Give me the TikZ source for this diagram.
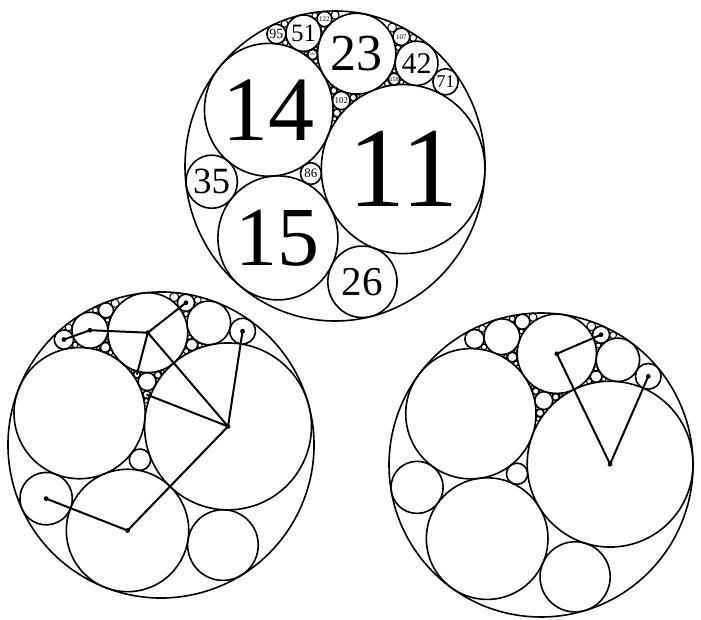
\documentclass[tikz,border=0pt]{standalone}
\usepackage{fontspec}
\setmainfont{Liberation Serif}
\usetikzlibrary{positioning}

% one packing, outer radius 1; coordinates named <prefix><curvature>
\newcommand{\gasket}[1]{%
  \foreach \n/\x/\y/\r in {out/0/0/1,
      11/0.454545/0/0.545455, 14/-0.457143/0.342857/0.428571,
      15/-0.36/-0.48/0.4, 23/0.113043/0.730435/0.260870,
      26/0.215385/-0.738462/0.230769, 35/-0.817143/-0.137143/0.171429,
      86/-0.158140/-0.055814/0.069767, 42/0.514286/0.685714/0.142857,
      51/-0.247059/0.847059/0.117647, 102/0.023529/0.423529/0.058824,
      71/0.712676/0.574648/0.084507, 95/-0.427368/0.833684/0.063158,
      107/0.405607/0.852336/0.056075, 122/-0.111475/0.944262/0.049180,
      158/0.369620/0.577215/0.037975, 182/-0.180220/0.712088/0.032967,
      231/-0.002597/0.342857/0.025974, 258/0.102326/0.446512/0.023256,
      267/-0.029213/0.485393/0.022472}{%
    \coordinate (#1\n) at (\x,\y);
    \draw[circ] (\x,\y) circle (\r);
  }%
  % tiny ones in the gaps
  \foreach \n/\x/\y/\r in {206/0.341748/0.908738/0.029126,
      227/-0.041410/0.972687/0.026432, 263/0.484411/0.848669/0.022814,
      266/-0.375940/0.902256/0.022556, 311/-0.176849/0.964630/0.019293,
      326/-0.365644/0.780368/0.018405, 342/0.322807/0.547368/0.017544,
      350/0.386286/0.781714/0.017143, 387/-0.156589/0.669767/0.015504,
      398/-0.118593/0.880402/0.015075, 399/0.419549/0.559398/0.015038,
      410/-0.015610/0.304390/0.014634, 435/0.368276/0.628966/0.013793,
      471/-0.225478/0.718471/0.012739, 482/0.136100/0.458091/0.012448,
      498/-0.159036/0.751807/0.012048, 506/-0.050593/0.512253/0.011858}{%
    \draw[gapcirc] (\x,\y) circle (\r);
  }%
}
\newcommand{\labsize}[1]{\fontsize{#1}{#1}\selectfont}

\begin{document}
\begin{tikzpicture}[
  x=1pt, y=1pt,
  circ/.style={line width=1.6pt},
  gapcirc/.style={line width=1pt},
  walk/.style={line width=2pt},
  lab/.style={inner sep=0pt},
  dot/.style={fill=black}
]
\useasboundingbox (0,0) rectangle (701,619);

% ===== Top: labelled packing =====
\begin{scope}[shift={(335,453)}, xscale=150, yscale=155, rotate=-2.5]
  \gasket{t}
\end{scope}
\node[lab, font=\labsize{114}] (l11) at (t11) {11};
\node[lab, font=\labsize{92}]  (l14) at (t14) {14};
\node[lab, font=\labsize{84}]  (l15) at (t15) {15};
\node[lab, font=\labsize{52}]  (l23) at (t23) {23};
\node[lab, font=\labsize{41}]  (l26) at (t26) {26};
\node[lab, font=\labsize{37}]  (l35) at (t35) {35};
\node[lab, font=\labsize{30}]  (l42) at (t42) {42};
\node[lab, font=\labsize{25}]  (l51) at (t51) {51};
\node[lab, font=\labsize{18}]  (l71) at (t71) {71};
\node[lab, font=\labsize{14}]  (l95) at (t95) {95};
\node[lab, font=\labsize{13}]  (l86) at (t86) {86};
\node[lab, font=\labsize{9}]   (l102) at (t102) {102};
\node[lab, font=\labsize{7}]   (l107) at (t107) {107};
\node[lab, font=\labsize{7}]   (l122) at (t122) {122};
\node[lab, font=\labsize{6}]   (l158) at (t158) {158};
\node[lab, font=\labsize{4}]   (l182) at (t182) {182};

% ===== Bottom left =====
\begin{scope}[shift={(161,174)}, scale=153, rotate=15.5]
  \gasket{b}
\end{scope}
\draw[walk] (b35) -- (b15) -- (b11) -- (b71);
\draw[walk] (b95) -- (b51) -- (b23) -- (b107);
\draw[walk] (b23) -- (b11);
\draw[walk] (b23) -- (b267);
\draw[walk] (b231) -- (b11);
\foreach \c in {b35,b15,b11,b71,b95,b51,b23,b107}
  \fill[dot] (\c) circle (2.4pt);

% ===== Bottom right =====
\begin{scope}[shift={(541,154)}, scale=152, rotate=0.7]
  \gasket{r}
\end{scope}
\draw[walk] (r107) -- (r23) -- (r11) -- (r71);
\foreach \c in {r107,r23,r11,r71}
  \fill[dot] (\c) circle (2.4pt);

\end{tikzpicture}
\end{document}
